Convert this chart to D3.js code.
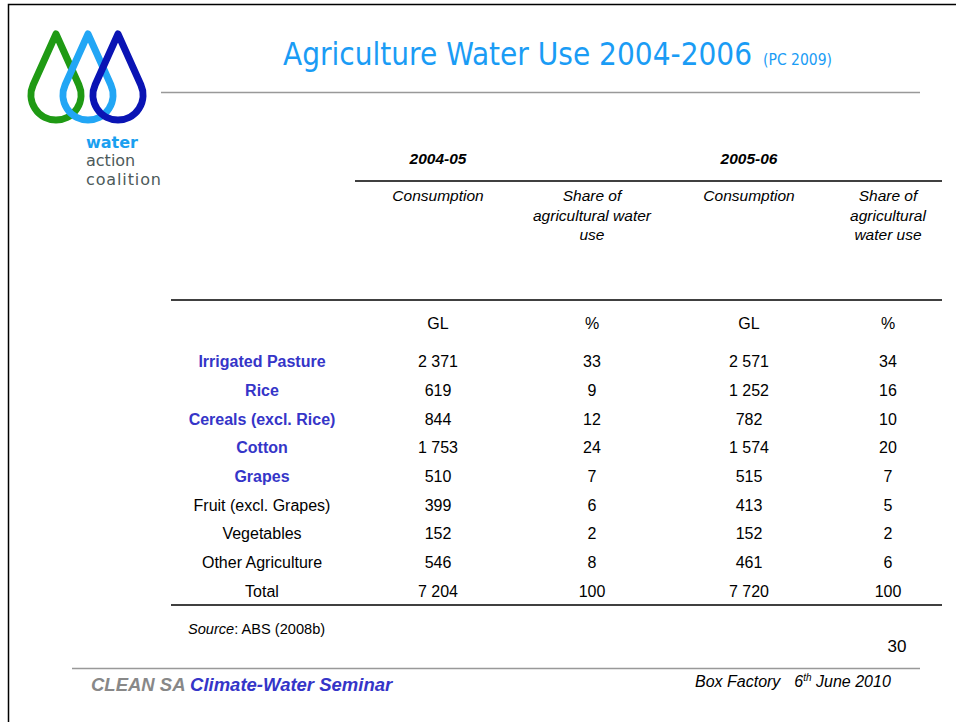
<!DOCTYPE html>
<html>
<head>
<meta charset="utf-8">
<script src="https://cdn.jsdelivr.net/npm/d3@7"></script>
<style>
  body { margin: 0; background: #fff; }
  svg { display: block; font-family: "Liberation Sans", Arial, sans-serif; }
</style>
</head>
<body>
<svg id="slide" width="956" height="722"></svg>
<script>
// Datos de la tabla
const categories = ['Irrigated Pasture', 'Rice', 'Cereals (excl. Rice)', 'Cotton', 'Grapes',
    'Fruit (excl. Grapes)', 'Vegetables', 'Other Agriculture', 'Total'];
const highlighted = ['Irrigated Pasture', 'Rice', 'Cereals (excl. Rice)', 'Cotton', 'Grapes'];
const consumption0405 = [2371, 619, 844, 1753, 510, 399, 152, 546, 7204];
const share0405 = [33, 9, 12, 24, 7, 6, 2, 8, 100];
const consumption0506 = [2571, 1252, 782, 1574, 515, 413, 152, 461, 7720];
const share0506 = [34, 16, 10, 20, 7, 5, 2, 6, 100];

const columns = ['label', 'c0405', 's0405', 'c0506', 's0506'];
const years = ['2004-05', '2005-06'];
const colHeads = [['Consumption'], ['Share of', 'agricultural water', 'use'], ['Consumption'], ['Share of', 'agricultural', 'water use']];
const units = ['GL', '%', 'GL', '%'];

const svg = d3.select('#slide');
const BLUE = '#1a9cf5';
const INK = '#3535c8';

const fmt = d3.formatLocale({ decimal: '.', thousands: ' ', grouping: [3], currency: ['', ''] }).format(',');

// Borde de la diapositiva (solo arriba e izquierda)
svg.append('path')
    .attr('d', 'M8.5,722 V4.5 H956')
    .attr('fill', 'none').attr('stroke', '#000').attr('stroke-width', 1.5);

// Logo: tres gotas
const drops = [
    { cx: 56, color: '#1f9a14' },
    { cx: 88, color: '#22a6f5' },
    { cx: 118, color: '#0a14b4' }
];
function dropPath(cx) {
    const r = 25, cy = 95, tipY = 34;
    const a = Math.asin(r / (cy - tipY));
    const dx = r * Math.cos(a), dy = r * Math.sin(a);
    return `M${cx},${tipY} L${cx + dx},${cy - dy} A${r},${r} 0 1 1 ${cx - dx},${cy - dy} Z`;
}
svg.append('g').selectAll('path')
    .data(drops)
    .join('path')
    .attr('d', d => dropPath(d.cx))
    .attr('fill', 'none')
    .attr('stroke', d => d.color)
    .attr('stroke-width', 7)
    .attr('stroke-linejoin', 'round');

const logoText = svg.append('g').attr('font-family', '"DejaVu Sans", Verdana, sans-serif').attr('font-size', 16);
logoText.append('text').attr('x', 86).attr('y', 148).attr('fill', '#1aa0f0').attr('font-weight', 'bold').text('water');
logoText.append('text').attr('x', 86).attr('y', 166).attr('fill', '#4d5a5a').text('action');
logoText.append('text').attr('x', 86).attr('y', 185).attr('fill', '#4d5a5a').attr('textLength', 75).text('coalition');

// Título
const title = svg.append('text')
    .attr('x', 283).attr('y', 65)
    .attr('font-family', '"DejaVu Sans Condensed", "DejaVu Sans", sans-serif')
    .attr('fill', BLUE);
title.append('tspan').attr('font-size', 31.2).text('Agriculture Water Use 2004-2006');
title.append('tspan').attr('font-size', 15.5).attr('dx', 11).text('(PC 2009)');

svg.append('line').attr('x1', 161).attr('x2', 920).attr('y1', 92.5).attr('y2', 92.5)
    .attr('stroke', '#999').attr('stroke-width', 1.5);

// Escalas de la tabla
const x = d3.scaleOrdinal().domain(columns).range([262, 438, 592, 749, 888]);
const y = d3.scaleBand().domain(categories).range([347, 605]).paddingInner(0);

const table = svg.append('g').attr('font-size', 16).attr('fill', '#000');

// Encabezados de año
table.selectAll('.year')
    .data(years)
    .join('text')
    .attr('class', 'year')
    .attr('x', (d, i) => (x(columns[1 + i * 2])))
    .attr('y', 164)
    .attr('text-anchor', 'middle')
    .attr('font-weight', 'bold').attr('font-style', 'italic').attr('font-size', 15.5)
    .text(d => d);

table.append('line').attr('x1', 355).attr('x2', 942).attr('y1', 181).attr('y2', 181)
    .attr('stroke', '#000').attr('stroke-width', 1.5);

// Encabezados de columna
colHeads.forEach((lines, i) => {
    table.append('text')
        .attr('x', x(columns[i + 1]))
        .attr('y', 201)
        .attr('text-anchor', 'middle')
        .attr('font-style', 'italic').attr('font-size', 15.5)
        .selectAll('tspan')
        .data(lines)
        .join('tspan')
        .attr('x', x(columns[i + 1]))
        .attr('dy', (d, j) => j === 0 ? 0 : 19.5)
        .text(d => d);
});

table.append('line').attr('x1', 171).attr('x2', 942).attr('y1', 300).attr('y2', 300)
    .attr('stroke', '#000').attr('stroke-width', 1.5);

table.selectAll('.unit')
    .data(units)
    .join('text')
    .attr('class', 'unit')
    .attr('x', (d, i) => x(columns[i + 1]))
    .attr('y', 329)
    .attr('text-anchor', 'middle')
    .text(d => d);

// Filas
const rows = categories.map((c, i) => ({
    label: c,
    c0405: fmt(consumption0405[i]),
    s0405: share0405[i],
    c0506: fmt(consumption0506[i]),
    s0506: share0506[i]
}));

const rowG = table.selectAll('.row')
    .data(rows)
    .join('g')
    .attr('class', 'row')
    .attr('transform', d => `translate(0,${y(d.label) + y.bandwidth() / 2 + 6})`);

rowG.selectAll('text')
    .data(d => columns.map(k => ({ key: k, value: d[k], row: d.label })))
    .join('text')
    .attr('x', d => x(d.key))
    .attr('text-anchor', 'middle')
    .attr('font-weight', d => d.key === 'label' && highlighted.includes(d.row) ? 'bold' : null)
    .attr('fill', d => d.key === 'label' && highlighted.includes(d.row) ? INK : '#000')
    .text(d => d.value);

table.append('line').attr('x1', 171).attr('x2', 942).attr('y1', 605).attr('y2', 605)
    .attr('stroke', '#000').attr('stroke-width', 1.5);

// Fuente
const src = table.append('text').attr('x', 188).attr('y', 634).attr('font-size', 14.6);
src.append('tspan').attr('font-style', 'italic').text('Source');
src.append('tspan').text(': ABS (2008b)');

// Número de página
svg.append('text').attr('x', 897).attr('y', 652).attr('text-anchor', 'middle')
    .attr('font-size', 17).text('30');

// Pie
svg.append('line').attr('x1', 72).attr('x2', 920).attr('y1', 668.5).attr('y2', 668.5)
    .attr('stroke', '#999').attr('stroke-width', 1.5);

const foot = svg.append('text').attr('x', 91).attr('y', 691)
    .attr('font-size', 18.5).attr('font-weight', 'bold').attr('font-style', 'italic');
foot.append('tspan').attr('fill', '#888').text('CLEAN SA ');
foot.append('tspan').attr('fill', INK).text('Climate-Water Seminar');

const right = svg.append('text').attr('x', 695).attr('y', 687)
    .attr('font-size', 16).attr('font-style', 'italic');
right.append('tspan').text('Box Factory');
right.append('tspan').attr('dx', 14).text('6');
right.append('tspan').attr('font-size', 10).attr('dy', -6).text('th');
right.append('tspan').attr('dy', 6).text(' June 2010');
</script>
</body>
</html>
